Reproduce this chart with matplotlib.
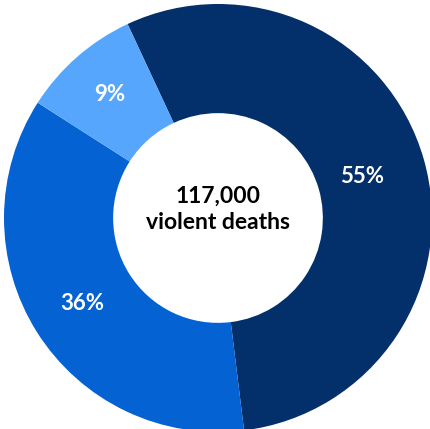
import matplotlib
matplotlib.use("Agg")
import matplotlib.pyplot as plt
import numpy as np

shares = [55, 36, 9]
labels = ["55%", "36%", "9%"]
colors = ["#03306A", "#0562D3", "#57A6FE"]
center_text = "117,000\nviolent deaths"

fig = plt.figure(figsize=(4.30, 4.29), dpi=100)
ax = fig.add_axes([4/430, -3/429, 428/430, 428/429])
wedges, _ = ax.pie(shares, colors=colors, startangle=115, counterclock=False,
                   radius=1.0, wedgeprops=dict(width=0.51, linewidth=0))
total = sum(shares)
ang = 115
radii = [0.70, 0.75, 0.77]
for s, lab, r in zip(shares, labels, radii):
    mid = ang - s / total * 360 / 2
    ang -= s / total * 360
    ax.text(r * np.cos(np.radians(mid)), r * np.sin(np.radians(mid)), lab,
            ha="center", va="center", color="white", fontsize=16,
            fontweight="bold", family="Lato")
ax.text(0, 0.04, center_text, ha="center", va="center", color="black",
        fontsize=16.5, fontweight="bold", family="Lato", linespacing=1.3)
ax.set_xlim(-1, 1)
ax.set_ylim(-1, 1)
ax.set_aspect("equal")
ax.axis("off")
fig.savefig("out.png", dpi=100)
